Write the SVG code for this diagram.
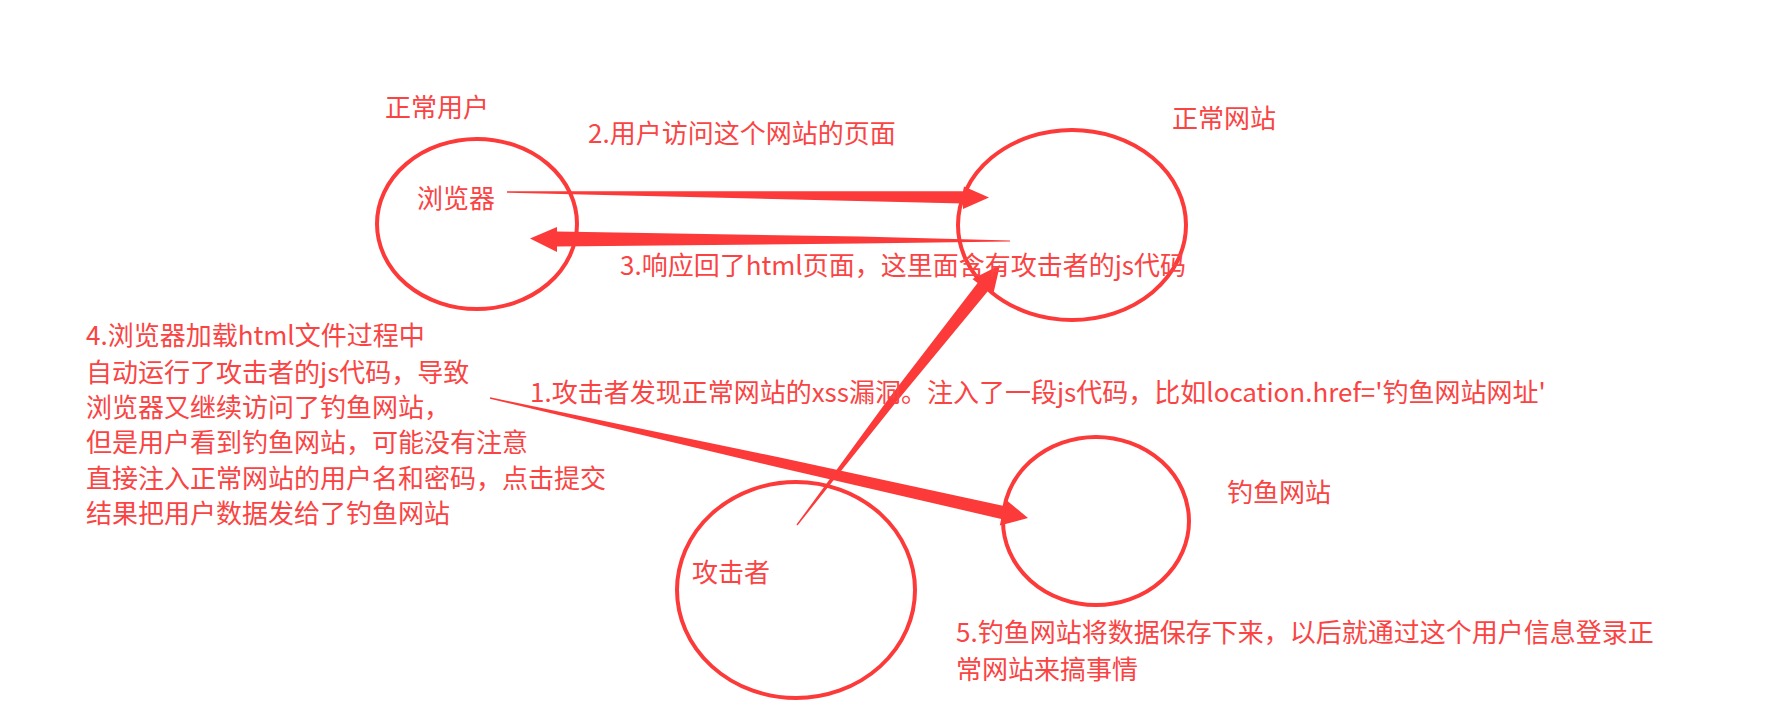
<svg xmlns="http://www.w3.org/2000/svg" width="1782" height="724" viewBox="0 0 1782 724">
<style>
  .node { fill: none; stroke: #fc3a3a; stroke-width: 4; }
  .lbl { font-family: "Noto Sans CJK SC", "Noto Sans", sans-serif; font-size: 26px; fill: #fa4444; }
  .conn { fill: #fc3a3a; stroke: none; }
</style>
<rect width="1782" height="724" fill="#ffffff"/>

<g id="normal-user">
  <ellipse class="node" cx="477" cy="224" rx="100" ry="85"/>
  <text class="lbl" x="385" y="117">正常用户</text>
  <text class="lbl" x="417" y="208">浏览器</text>
</g>

<g id="normal-site">
  <ellipse class="node" cx="1072" cy="225" rx="114" ry="95"/>
  <text class="lbl" x="1172" y="128">正常网站</text>
</g>

<g id="attacker">
  <ellipse class="node" cx="796" cy="590" rx="119" ry="108"/>
  <text class="lbl" x="692" y="582">攻击者</text>
</g>

<g id="phishing-site">
  <ellipse class="node" cx="1096" cy="521" rx="93" ry="84"/>
  <text class="lbl" x="1227" y="502">钓鱼网站</text>
</g>

<g id="connectors">
  <!-- 2: browser -> normal site -->
  <path class="conn" d="M507,191.3 L963,191.2 L964,186.5 L989,197.5 L963,209 L963,203.5 L507,192.7 Z"/>
  <!-- 3: normal site -> browser -->
  <path class="conn" d="M1010,240.5 L860,236.5 L557,231.5 L557,227 L530,238.5 L557,252 L557,246.5 L860,243.5 L1010,241.5 Z"/>
  <!-- 1: attacker -> normal site -->
  <path class="conn" d="M797.5,525.4 L894.2,404.4 L987.8,291.2 L993,295.2 L1000,265 L972.4,279.1 L977.6,283.1 L888,399.6 L796.5,524.6 Z"/>
  <!-- 4: browser -> phishing site -->
  <path class="conn" d="M490.15,397.3 L781.1,457.8 L1004.0,505.9 L1005.4,499.2 L1028,518 L999.8,525.6 L1001.2,518.9 L778.9,467.6 L489.85,398.7 Z"/>
</g>

<g id="labels">
  <text class="lbl" x="588" y="143">2.用户访问这个网站的页面</text>
  <text class="lbl" x="620" y="275">3.响应回了html页面，这里面含有攻击者的js代码</text>
  <text class="lbl" x="530" y="402">1.攻击者发现正常网站的xss漏洞。注入了一段js代码，比如location.href='钓鱼网站网址'</text>
  <text class="lbl" x="86" y="345">4.浏览器加载html文件过程中</text>
  <text class="lbl" x="86" y="382">自动运行了攻击者的js代码，导致</text>
  <text class="lbl" x="86" y="417">浏览器又继续访问了钓鱼网站，</text>
  <text class="lbl" x="86" y="452">但是用户看到钓鱼网站，可能没有注意</text>
  <text class="lbl" x="86" y="488">直接注入正常网站的用户名和密码，点击提交</text>
  <text class="lbl" x="86" y="523">结果把用户数据发给了钓鱼网站</text>
  <text class="lbl" x="956" y="642">5.钓鱼网站将数据保存下来，以后就通过这个用户信息登录正</text>
  <text class="lbl" x="956" y="679">常网站来搞事情</text>
</g>
</svg>
